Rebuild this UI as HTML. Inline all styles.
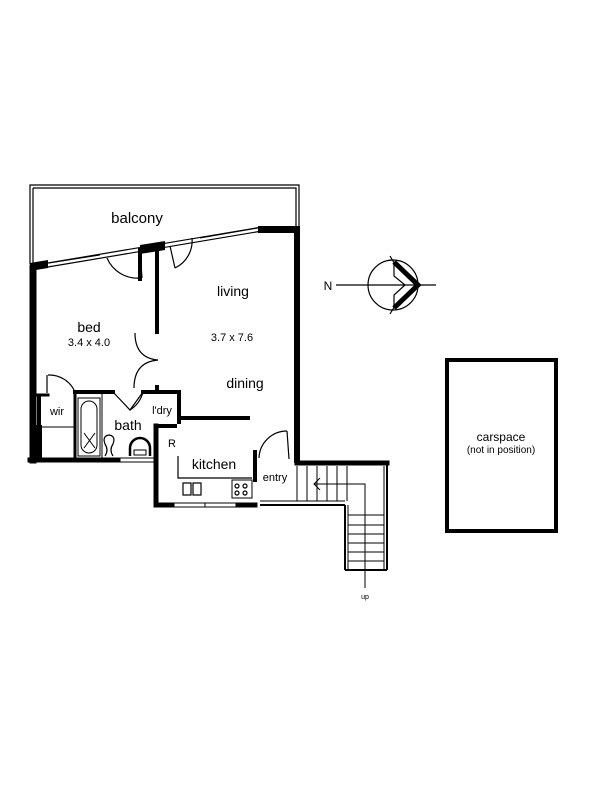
<!DOCTYPE html>
<html><head><style>
html,body{margin:0;padding:0;background:#fff;}
svg{display:block}
text{font-family:"Liberation Sans",Arial,sans-serif;fill:#000}
</style></head><body>
<svg width="600" height="800" viewBox="0 0 600 800" xmlns="http://www.w3.org/2000/svg">
<rect width="600" height="800" fill="#fff"/>
<g fill="none" stroke="#000" stroke-width="1.2">
<path d="M30 264 V185 H299 V226"/>
<path d="M33 188 H296 V226"/>
<path d="M33 188 V263"/>
</g>
<g stroke="#000" fill="none">
<line x1="36" y1="265" x2="262" y2="227" stroke-width="1.2"/>
<line x1="36" y1="269" x2="262" y2="231" stroke-width="1.2"/>
<line x1="49" y1="263" x2="100" y2="255" stroke-width="1"/>
<line x1="200" y1="238" x2="258" y2="228" stroke-width="1"/>
</g>
<g fill="#000">
<polygon points="30,263 48,260 48,268 30,271"/>
<polygon points="140,245 165,241 165,250 140,254"/>
<polygon points="258,226 300,226 300,233 258,233"/>
</g>
<g stroke="#000" stroke-linecap="square" fill="none">
<line x1="33" y1="268" x2="33" y2="460" stroke-width="7"/>
<line x1="297" y1="230" x2="297" y2="460" stroke-width="6"/>
<line x1="30" y1="460" x2="118" y2="460" stroke-width="5"/>
<line x1="157" y1="250" x2="157" y2="332" stroke-width="4"/>
<line x1="140" y1="250" x2="140" y2="279" stroke-width="4"/>
<line x1="157" y1="387" x2="157" y2="392" stroke-width="4"/>
<line x1="75" y1="392" x2="113" y2="392" stroke-width="4"/>
<line x1="143" y1="392" x2="179" y2="392" stroke-width="4"/>
<line x1="179" y1="392" x2="179" y2="422" stroke-width="4"/>
<line x1="179" y1="418" x2="248" y2="418" stroke-width="4"/>
<line x1="158" y1="426" x2="175" y2="426" stroke-width="4"/>
<line x1="156" y1="426" x2="156" y2="505" stroke-width="5"/>
<line x1="156" y1="505" x2="172" y2="505" stroke-width="5"/>
<line x1="238" y1="505" x2="255" y2="505" stroke-width="5"/>
<line x1="255" y1="452" x2="255" y2="480" stroke-width="4"/>
<line x1="37" y1="395" x2="48" y2="395" stroke-width="3"/>
<line x1="37" y1="427" x2="75" y2="427" stroke-width="1"/>
<line x1="75" y1="392" x2="75" y2="460" stroke-width="3"/>
<line x1="297" y1="463" x2="387" y2="463" stroke-width="5"/>
</g>
<rect x="30" y="425" width="12" height="37" fill="#000"/>
<rect x="37" y="395" width="4" height="32" fill="#000"/>
<g stroke="#000" stroke-width="1" fill="none">
<line x1="118" y1="458" x2="155" y2="458"/><line x1="118" y1="462" x2="155" y2="462"/>
<line x1="172" y1="503" x2="238" y2="503"/><line x1="172" y1="507" x2="238" y2="507"/><line x1="205" y1="503" x2="205" y2="507"/>
</g>
<g stroke="#000" stroke-width="1.2" fill="none">
<path d="M107 258 A33 33 0 0 0 140 278"/><line x1="140" y1="250" x2="142" y2="278"/>
<path d="M192 238 A30 30 0 0 1 175 268"/><line x1="170" y1="246" x2="175" y2="268"/>
<path d="M135 333 Q135 358 158 360"/><path d="M158 360 Q134 362 134 388"/>
<path d="M48 375 A28 28 0 0 1 75 392"/><line x1="47" y1="375" x2="47" y2="393"/>
<path d="M113 392 L130 410 L143 392" />
<path d="M143 392 A30 30 0 0 1 130 410"/>
<path d="M259 458 A28 28 0 0 1 287 431"/><line x1="287" y1="431" x2="289" y2="459"/>
<rect x="78" y="398" width="22" height="58" fill="none" stroke-width="1"/>
<rect x="81" y="401" width="16" height="52" rx="8" stroke-width="1"/>
<line x1="84" y1="433" x2="95" y2="448" stroke-width="1"/><line x1="95" y1="433" x2="84" y2="448" stroke-width="1"/>
<line x1="102" y1="394" x2="102" y2="458" stroke-width="1"/>
<path d="M105 456 q4 -6 0 -12 q-3 -8 4 -9 q7 1 4 9 q-4 6 0 12" stroke-width="1.2"/>
<path d="M130 456 v-8 a10 10 0 0 1 20 0 v8" stroke-width="2.5"/>
<rect x="134" y="450" width="12" height="5" stroke-width="1"/>
<path d="M178 456 V478 H252" stroke-width="1.2"/>
<rect x="183" y="483" width="8" height="12" stroke-width="1.2"/>
<rect x="193" y="483" width="8" height="12" stroke-width="1.2"/>
<rect x="232" y="480" width="20" height="18" stroke-width="1"/>
<circle cx="237" cy="486" r="2"/><circle cx="245" cy="486" r="2"/><circle cx="237" cy="493" r="2"/><circle cx="245" cy="493" r="2"/>
</g>
<g stroke="#000" stroke-width="1" fill="none">
<line x1="260" y1="505" x2="345" y2="505" stroke-width="2"/>
<line x1="260" y1="501" x2="345" y2="501"/>
<line x1="345" y1="505" x2="345" y2="570" stroke-width="2"/>
<line x1="348" y1="505" x2="348" y2="570"/>
<line x1="345" y1="570" x2="387" y2="570" stroke-width="2"/>
<line x1="387" y1="463" x2="387" y2="570" stroke-width="2"/>
<line x1="384" y1="466" x2="384" y2="570"/>
<line x1="297" y1="466" x2="297" y2="501"/>
<line x1="307" y1="466" x2="307" y2="501"/><line x1="317" y1="466" x2="317" y2="501"/>
<line x1="327" y1="466" x2="327" y2="501"/><line x1="337" y1="466" x2="337" y2="501"/>
<line x1="347" y1="466" x2="347" y2="501"/>
<line x1="348" y1="515" x2="384" y2="515"/><line x1="348" y1="525" x2="384" y2="525"/>
<line x1="348" y1="534" x2="384" y2="534"/><line x1="348" y1="543" x2="384" y2="543"/>
<line x1="348" y1="552" x2="384" y2="552"/><line x1="348" y1="561" x2="384" y2="561"/>
<polyline points="365,588 365,484 314,484"/>
<polyline points="320,478 314,484 320,490"/>
</g>
<g stroke="#000" fill="none">
<circle cx="393" cy="285" r="25" stroke-width="1.2"/>
<line x1="336" y1="285" x2="436" y2="285" stroke-width="1.2"/>
<polyline points="394,262 418,285 394,308" stroke-width="5"/>
<polyline points="394,262 394,276 405,285 394,295 394,308" stroke-width="1.2"/>
<line x1="390" y1="256" x2="396" y2="266" stroke-width="1.2"/>
<line x1="390" y1="314" x2="396" y2="304" stroke-width="1.2"/>
</g>
<rect x="447" y="360" width="109" height="171" fill="none" stroke="#000" stroke-width="4"/>
<text x="137" y="223" font-size="15" text-anchor="middle">balcony</text>
<text x="233" y="296" font-size="14" text-anchor="middle">living</text>
<text x="232" y="341" font-size="11" text-anchor="middle">3.7 x 7.6</text>
<text x="245" y="388" font-size="14" text-anchor="middle">dining</text>
<text x="89" y="332" font-size="14" text-anchor="middle">bed</text>
<text x="89" y="346" font-size="11" text-anchor="middle">3.4 x 4.0</text>
<text x="57" y="415" font-size="11" text-anchor="middle">wir</text>
<text x="128" y="430" font-size="14" text-anchor="middle">bath</text>
<text x="162" y="414" font-size="11" text-anchor="middle">l'dry</text>
<text x="172" y="447" font-size="11" text-anchor="middle">R</text>
<text x="214" y="469" font-size="14" text-anchor="middle">kitchen</text>
<text x="275" y="481" font-size="11" text-anchor="middle">entry</text>
<text x="365" y="599" font-size="7" text-anchor="middle">up</text>
<text x="328" y="290" font-size="12" text-anchor="middle">N</text>
<text x="501" y="441" font-size="12" text-anchor="middle">carspace</text>
<text x="501" y="453" font-size="10" text-anchor="middle">(not in position)</text>
</svg>
</body></html>
